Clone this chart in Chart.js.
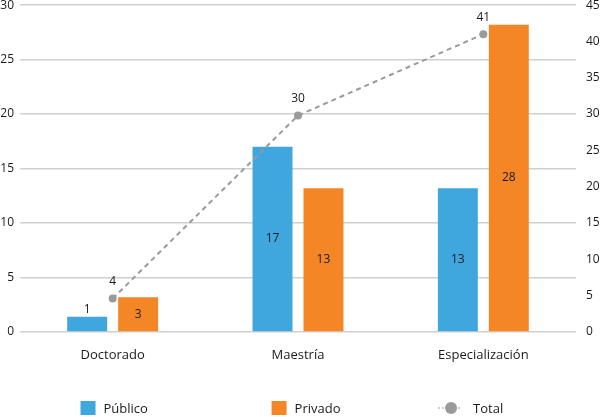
<!DOCTYPE html>
<html>
<head>
<meta charset="utf-8">
<script src="https://cdn.jsdelivr.net/npm/chart.js@4"></script>
<style>
  html, body { margin: 0; padding: 0; background: #fff; }
  #wrap { width: 605px; height: 417px; }
</style>
</head>
<body>
<div id="wrap"><canvas id="chart"></canvas></div>
<script>
// Datos
const categorias = ['Doctorado', 'Maestría', 'Especialización'];
const publico = [1.4, 17.0, 13.2];
const privado = [3.2, 13.2, 28.2];
const total = [4.6, 29.8, 41.0];
const publicoEtiquetas = ['1', '17', '13'];
const privadoEtiquetas = ['3', '13', '28'];
const totalEtiquetas = ['4', '30', '41'];
const ticksIzq = [0, 5, 10, 15, 20, 25, 30];
const ticksDer = [0, 5, 10, 15, 20, 25, 30, 35, 40, 45];

const azul = '#3fa7dd';
const naranja = '#f58626';
const gris = '#9a9a9a';
const fuente = "'Open Sans', sans-serif";

// Etiquetas de valores sobre barras y puntos
const etiquetasPlugin = {
    id: 'etiquetas',
    afterDatasetsDraw(chart) {
        const ctx = chart.ctx;
        ctx.save();
        ctx.font = '12px ' + fuente;
        ctx.fillStyle = '#1a1a1a';
        ctx.textAlign = 'center';
        ctx.textBaseline = 'middle';
        chart.data.datasets.forEach(function(ds, i) {
            const meta = chart.getDatasetMeta(i);
            meta.data.forEach(function(el, j) {
                const txt = ds.etiquetas[j];
                if (ds.type === 'line') {
                    ctx.fillText(txt, el.x, el.y - 17);
                } else {
                    const h = el.base - el.y;
                    if (h < 22) {
                        ctx.fillText(txt, el.x, el.y - 7);
                    } else {
                        ctx.fillText(txt, el.x, (el.y + el.base) / 2);
                    }
                }
            });
        });
        ctx.restore();
    }
};

// Leyenda alineada con las categorias
const leyendaPlugin = {
    id: 'leyenda',
    afterDraw(chart) {
        const ctx = chart.ctx;
        const xs = chart.scales.x;
        const y = 408;
        ctx.save();
        ctx.font = '13px ' + fuente;
        ctx.textBaseline = 'middle';
        ctx.textAlign = 'left';
        chart.data.datasets.forEach(function(ds, i) {
            const cx = xs.getPixelForValue(i);
            ctx.font = '13px ' + fuente;
            const w = ctx.measureText(categorias[i]).width;
            const x0 = cx - w / 2;
            if (ds.type === 'line') {
                ctx.strokeStyle = gris;
                ctx.lineWidth = 1;
                ctx.setLineDash([2, 2]);
                ctx.beginPath();
                ctx.moveTo(x0, y);
                ctx.lineTo(x0 + 24, y);
                ctx.stroke();
                ctx.setLineDash([]);
                ctx.fillStyle = gris;
                ctx.beginPath();
                ctx.arc(x0 + 13, y, 6, 0, Math.PI * 2);
                ctx.fill();
                ctx.fillStyle = '#1a1a1a';
                ctx.fillText(ds.label, x0 + 35, y + 1);
            } else {
                ctx.fillStyle = ds.backgroundColor;
                ctx.fillRect(x0, y - 7, 15, 14);
                ctx.fillStyle = '#1a1a1a';
                ctx.fillText(ds.label, x0 + 23, y + 1);
            }
        });
        ctx.restore();
    }
};

const ctx = document.getElementById('chart').getContext('2d');
new Chart(ctx, {
    data: {
        labels: categorias,
        datasets: [
            {
                type: 'bar',
                label: 'Público',
                data: publico,
                etiquetas: publicoEtiquetas,
                backgroundColor: azul,
                yAxisID: 'y',
                barPercentage: 0.784,
                categoryPercentage: 0.55,
                order: 2
            },
            {
                type: 'bar',
                label: 'Privado',
                data: privado,
                etiquetas: privadoEtiquetas,
                backgroundColor: naranja,
                yAxisID: 'y',
                barPercentage: 0.784,
                categoryPercentage: 0.55,
                order: 2
            },
            {
                type: 'line',
                label: 'Total',
                data: total,
                etiquetas: totalEtiquetas,
                borderColor: gris,
                backgroundColor: gris,
                borderWidth: 2,
                borderDash: [5, 4],
                pointRadius: 4,
                pointBackgroundColor: gris,
                pointBorderWidth: 0,
                tension: 0,
                yAxisID: 'y1',
                order: 1
            }
        ]
    },
    options: {
        responsive: true,
        maintainAspectRatio: false,
        animation: false,
        layout: { padding: { top: 0, bottom: 40, left: 0, right: 0 } },
        plugins: {
            legend: { display: false },
            tooltip: { enabled: false }
        },
        scales: {
            x: {
                grid: { display: false, drawTicks: false },
                border: { display: false },
                ticks: {
                    padding: 15,
                    color: '#1a1a1a',
                    font: { family: fuente, size: 13 }
                },
                afterFit(scale) { scale.height = 45; }
            },
            y: {
                position: 'left',
                min: 0,
                max: 30,
                afterBuildTicks(scale) { scale.ticks = ticksIzq.map(v => ({ value: v })); },
                grid: {
                    color: '#d0d0d0',
                    lineWidth: 1.5,
                    drawTicks: true,
                    tickLength: 6,
                    tickColor: 'rgba(0,0,0,0)'
                },
                border: { display: false },
                ticks: {
                    padding: 0,
                    color: '#1a1a1a',
                    font: { family: fuente, size: 12, lineHeight: 0.85 }
                },
                afterFit(scale) { scale.width = 20; }
            },
            y1: {
                position: 'right',
                min: 0,
                max: 45,
                afterBuildTicks(scale) { scale.ticks = ticksDer.map(v => ({ value: v })); },
                grid: {
                    display: true,
                    drawOnChartArea: false,
                    drawTicks: true,
                    tickLength: 10,
                    tickColor: 'rgba(0,0,0,0)'
                },
                border: { display: false },
                ticks: {
                    padding: 0,
                    color: '#1a1a1a',
                    font: { family: fuente, size: 12, lineHeight: 0.85 }
                },
                afterFit(scale) { scale.width = 29; }
            }
        }
    },
    plugins: [etiquetasPlugin, leyendaPlugin]
});
</script>
</body>
</html>
